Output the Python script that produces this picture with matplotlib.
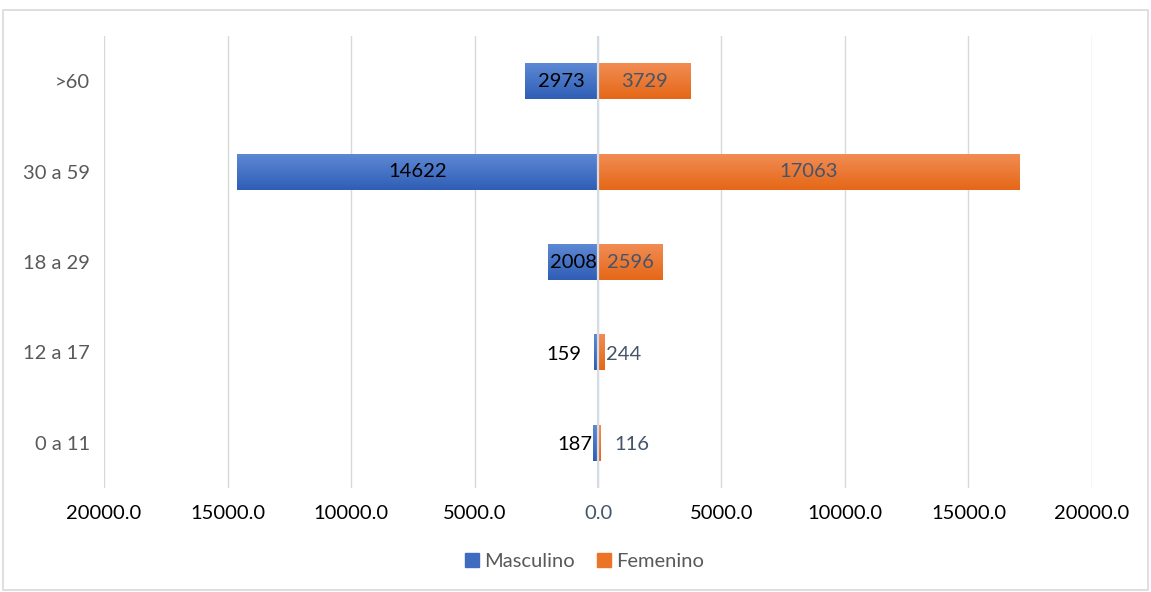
import matplotlib
matplotlib.use("Agg")
import matplotlib.pyplot as plt
import numpy as np
from matplotlib.colors import LinearSegmentedColormap
from matplotlib.patches import Rectangle

# age groups, bottom to top
groups = ["0 a 11", "12 a 17", "18 a 29", "30 a 59", ">60"]
masculino = [187, 159, 2008, 14622, 2973]
femenino = [116, 244, 2596, 17063, 3729]
ticks = [-20000, -15000, -10000, -5000, 0, 5000, 10000, 15000, 20000]

plt.rcParams["font.family"] = ["Lato", "DejaVu Sans"]
GREY = "#595959"
SLATE = "#44546A"
FS = 14.5

fig = plt.figure(figsize=(11.51, 5.92), dpi=100)
fig.patches.append(Rectangle((0.003, 0.003), 0.994, 0.98, transform=fig.transFigure,
                             fill=False, edgecolor="#D9D9D9", lw=1.2))
ax = fig.add_axes([0.0904, 0.1757, 0.8583, 0.7633])

y = np.arange(len(groups))
h = 0.4
bars_m = ax.barh(y, [-v for v in masculino], height=h, color="#4472C4", zorder=2)
bars_f = ax.barh(y, femenino, height=h, color="#ED7D31", zorder=2)

# vertical gradient inside every bar
grad = np.linspace(0, 1, 64).reshape(-1, 1)
cm_blue = LinearSegmentedColormap.from_list("b", ["#2F5EB6", "#5E89D4"])
cm_orng = LinearSegmentedColormap.from_list("o", ["#E56717", "#F28D55"])
for bars, cmap in ((bars_m, cm_blue), (bars_f, cm_orng)):
    for b in bars:
        x0, y0, w, hh = b.get_x(), b.get_y(), b.get_width(), b.get_height()
        im = ax.imshow(grad, cmap=cmap, aspect="auto", origin="lower",
                       extent=(x0, x0 + w, y0, y0 + hh), zorder=2.5)
        im.set_clip_path(b)

ax.axvline(0, color="#D6DCE5", lw=1.6, zorder=3)

# value labels: inside the bar when it is wide enough, outside otherwise
for yi, m, f in zip(y, masculino, femenino):
    if m > 1000:
        ax.text(-m / 2, yi, str(m), ha="center", va="center", fontsize=FS,
                color="black", zorder=4)
    else:
        pad = 500 if m < 170 else 40
        ax.text(-m - pad, yi - 0.02, str(m), ha="right", va="center", fontsize=FS,
                color="black", zorder=4)
    if f > 1000:
        ax.text(f / 2, yi, str(f), ha="center", va="center", fontsize=FS,
                color=SLATE, zorder=4)
    else:
        pad = 60 if f > 200 else 550
        ax.text(f + pad, yi - 0.02, str(f), ha="left", va="center", fontsize=FS,
                color=SLATE, zorder=4)

ax.set_xlim(-20000, 20000)
ax.set_ylim(-0.5, len(groups) - 0.5)
ax.set_xticks(ticks)
ax.set_xticklabels([f"{abs(t):.1f}" for t in ticks], fontsize=FS)
for lbl, t in zip(ax.get_xticklabels(), ticks):
    lbl.set_color(SLATE if t == 0 else "black")
ax.set_yticks(y)
ax.set_yticklabels(groups, fontsize=FS, color=GREY)
ax.tick_params(length=0, pad=12)
ax.tick_params(axis="y", pad=10)
ax.grid(axis="x", color="#D9D9D9", lw=1, zorder=0)
ax.set_axisbelow(True)
for s in ax.spines.values():
    s.set_visible(False)

handles = [Rectangle((0, 0), 1, 1, color="#3F6CC0"), Rectangle((0, 0), 1, 1, color="#EC7426")]
fig.legend(handles, ["Masculino", "Femenino"], loc="center", bbox_to_anchor=(0.508, 0.052),
           ncol=2, frameon=False, fontsize=FS, handlelength=0.7, handleheight=0.7,
           handletextpad=0.25, columnspacing=1.1, labelcolor=GREY)

fig.savefig("out.png", dpi=100)
